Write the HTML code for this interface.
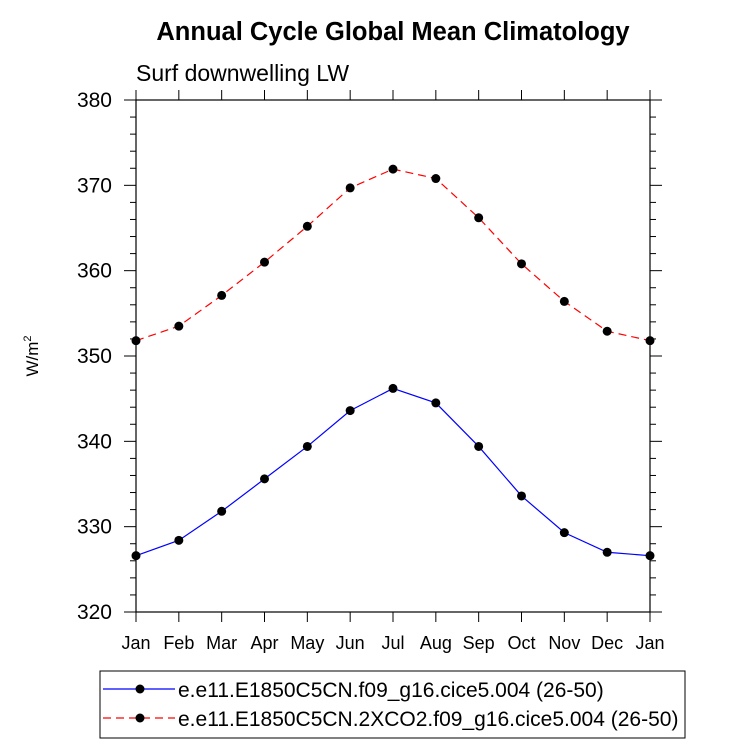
<!DOCTYPE html>
<html><head><meta charset="utf-8"><style>
body{margin:0;background:#fff}
text{font-family:"Liberation Sans",sans-serif}
</style></head><body>
<svg id="c" width="733" height="746" xmlns="http://www.w3.org/2000/svg">
<text x="393" y="40" text-anchor="middle" font-size="25.5" font-weight="bold">Annual Cycle Global Mean Climatology</text>
<text x="136" y="81" font-size="23">Surf downwelling LW</text>
<text transform="translate(38,356) rotate(-90)" text-anchor="middle" font-size="17">W/m<tspan font-size="11" dy="-7">2</tspan></text>
<g id="ax"></g>
<g id="marks"></g>
<rect x="100" y="671" width="585" height="67" fill="none" stroke="#000" stroke-width="1"/>
<line x1="103" y1="689" x2="175" y2="689" stroke="#00f" stroke-width="1.2"/>
<circle cx="140" cy="689" r="4.5"/>
<text x="178" y="697" font-size="21">e.e11.E1850C5CN.f09_g16.cice5.004 (26-50)</text>
<line x1="103" y1="718" x2="175" y2="718" stroke="#f00" stroke-width="1.2" stroke-dasharray="8,5"/>
<circle cx="140" cy="718" r="4.5"/>
<text x="178" y="726" font-size="21">e.e11.E1850C5CN.2XCO2.f09_g16.cice5.004 (26-50)</text>
</svg>
<script>
const months=["Jan","Feb","Mar","Apr","May","Jun","Jul","Aug","Sep","Oct","Nov","Dec","Jan"];
const yTicks=[320,330,340,350,360,370,380];
const control=[326.6,328.4,331.8,335.6,339.4,343.6,346.2,344.5,339.4,333.6,329.3,327.0,326.6];
const co2x2=[351.8,353.5,357.1,361.0,365.2,369.7,371.9,370.8,366.2,360.8,356.4,352.9,351.8];
const L=136,R=650,T=100,B=612,ymin=320,ymax=380;
const xs=i=>L+(R-L)*i/(months.length-1);
const ys=v=>B-(B-T)*(v-ymin)/(ymax-ymin);
const NS="http://www.w3.org/2000/svg";
function mk(tag,attrs,parent){const e=document.createElementNS(NS,tag);for(const k in attrs)e.setAttribute(k,attrs[k]);parent.appendChild(e);return e;}
const ax=document.getElementById('ax');
let fr=mk('rect',{x:L,y:T,width:R-L,height:B-T,fill:'none',stroke:'#000','stroke-width':1.2},ax);


months.forEach((m,i)=>{
  const x=xs(i);
  mk('line',{x1:x,y1:B,x2:x,y2:B+10,stroke:'#000'},ax);
  mk('line',{x1:x,y1:T,x2:x,y2:T-10,stroke:'#000'},ax);
  const t=mk('text',{x:x,y:B+37,'text-anchor':'middle','font-size':18},ax);
  t.textContent=m;
  
  
});
for(let v=ymin;v<=ymax;v+=2){
  const y=ys(v),maj=(v%10===0),len=maj?12:6;
  mk('line',{x1:L,y1:y,x2:L-len,y2:y,stroke:'#000'},ax);
  mk('line',{x1:R,y1:y,x2:R+len,y2:y,stroke:'#000'},ax);
}
yTicks.forEach(v=>{
  const t=mk('text',{x:L-24,y:ys(v)+7,'text-anchor':'end','font-size':21},ax);
  t.textContent=v;
  
  
});
const g=document.getElementById('marks');
function series(vals,color,dash,name){
  const p=mk('polyline',{points:vals.map((v,i)=>xs(i)+','+ys(v)).join(' '),fill:'none',stroke:color,'stroke-width':1.2},g);
  if(dash)p.setAttribute('stroke-dasharray',dash);
  
  
  vals.forEach((v,i)=>{
    const c=mk('circle',{cx:xs(i),cy:ys(v),r:4.5,fill:'#000'},g);
    
    
  });
}
series(control,'#00f',null,'control');
series(co2x2,'#f00','8,5','2xco2');
</script>
</body></html>
